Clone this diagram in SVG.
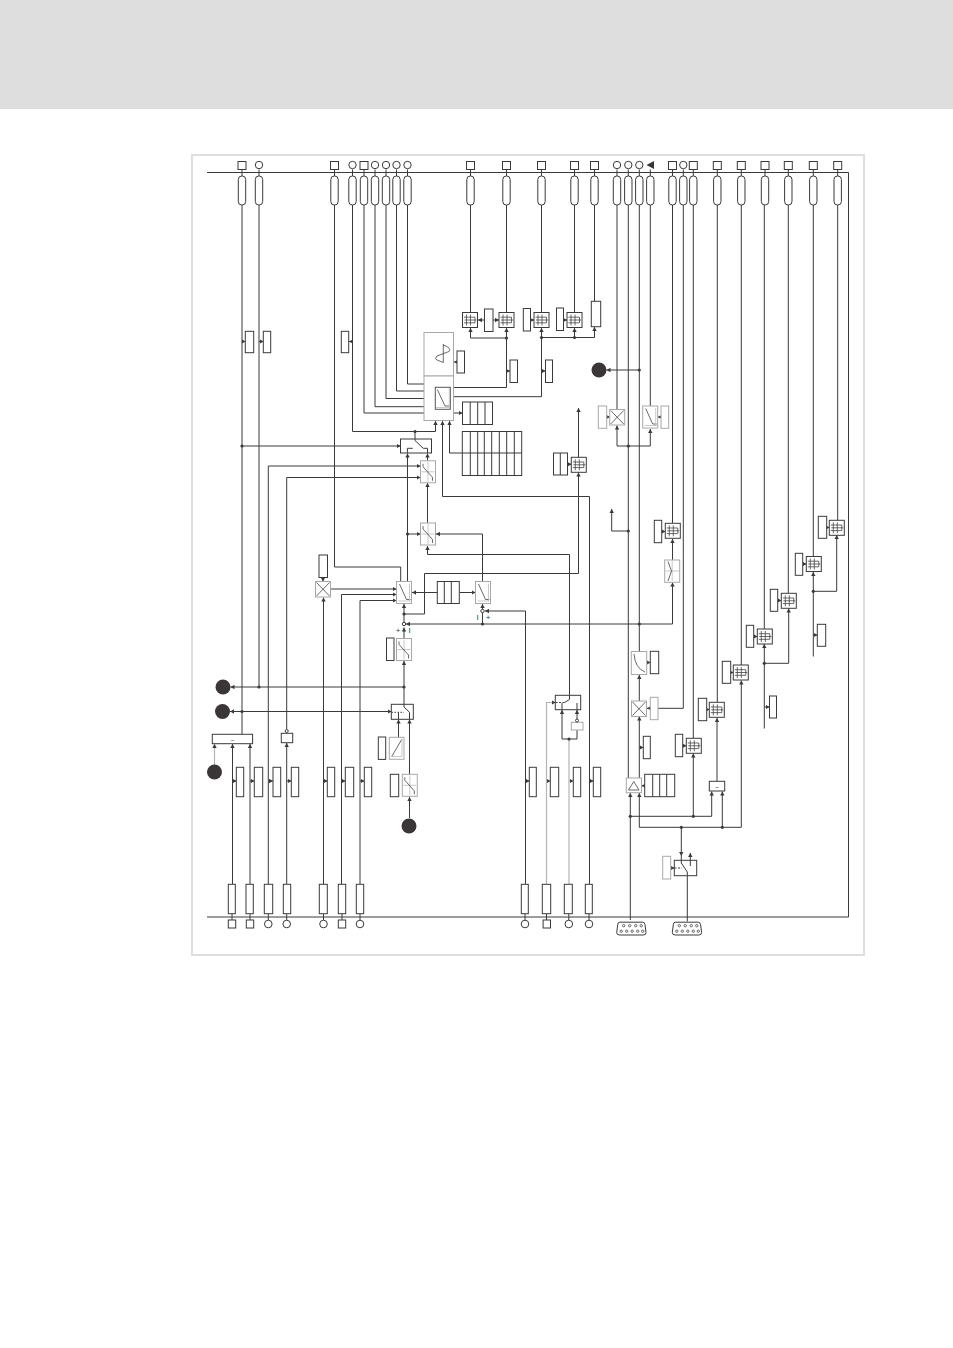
<svg xmlns="http://www.w3.org/2000/svg" width="953" height="1348" viewBox="0 0 953 1348">
<style>
.c{fill:none;stroke:#3a3a3a;stroke-width:1}
.g{fill:none;stroke:#b4b4b4;stroke-width:1.2}
.a{marker-end:url(#ar)}
.r{fill:#fff;stroke:#3a3a3a;stroke-width:1}
.y{fill:#fff;stroke:#a8a8a8;stroke-width:1}
.i{fill:none;stroke:#444;stroke-width:.8}
.l{fill:none;stroke:#bbb;stroke-width:.8}
.d{fill:#3a3a3a}
.k{fill:#3a3536}
.t{font-family:"Liberation Sans",Arial,sans-serif;fill:#3a3a3a;text-anchor:middle}
</style>
<defs>
<marker id="ar" markerUnits="userSpaceOnUse" markerWidth="5" markerHeight="5" refX="4" refY="2.5" orient="auto"><path d="M0 .3L4 2.5L0 4.700Z" fill="#3a3a3a"/></marker>
<g id="pill"><path class="c" d="M0 169.500V176"/><rect class="r" x="-3.700" y="176" width="7.400" height="29" rx="3.500"/></g>
<g id="ts"><rect class="r" x="-4" y="161.500" width="8" height="8"/><use href="#pill"/></g>
<g id="tc"><circle class="r" cx="0" cy="165" r="3.700"/><use href="#pill"/></g>
<g id="bs"><rect class="r" x="-3.700" y="920" width="7.400" height="8"/></g>
<g id="bc"><circle class="r" cx="0" cy="924" r="3.800"/></g>
<g id="mx"><rect class="r" width="15" height="15"/><path class="i" d="M1.500 4.700H12.500V10.300H1.500M2 7.500H14M4 2V13M8 2V13"/></g>
<g id="xb"><rect class="y" width="15" height="15.500"/><path class="i" d="M1 1L14 14.500M14 1L1 14.500"/></g>
<g id="nb"><rect class="y" width="15" height="22"/><path class="i" d="M3 2.500L10 18H14"/><path class="l" d="M13 2V20M2 19.500H14"/></g>
<g id="sb"><rect class="y" width="15" height="22"/><path class="l" d="M7.500 1V21M1 11H14"/><path class="i" d="M2.500 3V6L12 16.500V20"/></g>
<g id="db"><path class="r" d="M3 .5H26Q28 .5 28.300 3L29.300 11Q29.300 13.300 26.500 13.300H3Q0 13.300 0 11L1 3Q1 .5 3 .5Z"/><g class="i"><circle cx="7" cy="4" r="1.200"/><circle cx="13" cy="4" r="1.200"/><circle cx="19" cy="4" r="1.200"/><circle cx="24.500" cy="4" r="1.200"/><circle cx="4.500" cy="9.500" r="1.200"/><circle cx="10" cy="9.500" r="1.200"/><circle cx="15.500" cy="9.500" r="1.200"/><circle cx="21" cy="9.500" r="1.200"/><circle cx="26" cy="9.500" r="1.200"/></g></g>
</defs>
<rect x="0" y="0" width="953" height="109" fill="#dedede"/>
<rect x="192" y="155" width="672" height="800" fill="#fff" stroke="#dedede" stroke-width="2"/>

<g id="connectors">
<path class="c" d="M207 172.500H848.500V917H207"/>
<path class="c" d="M242 205V734M259 205V687M334.500 205V567H400.700V581.500M364 205V413H424M375 205V406.700H424M386 205V398.500H424M396.500 205V391H424M407.500 205V384H424M470.500 205V312.500M506.500 205V312.500M541.500 205V312.500M574.500 205V312.500M594.500 205V301M617 205V409.500M628.300 205V778M639.300 205V651M650.300 205V406M672.500 205V523M683.300 205V708.300H658M693.300 205V738M717.300 205V702M741.300 205V665M764.300 205V629M788.300 205V593M813.300 205V556M837.700 205V520M415 431.500V440"/>
<path class="c a" d="M352.500 205V431.500H435.500V421"/>
<path class="c a" d="M453.500 387.500H506.500V328"/>
<path class="c a" d="M506.500 338H470.500V328"/>
<path class="c a" d="M453.500 396.700H541.500V328"/>
<path class="c a" d="M541.500 337.500H594.500V327"/>
<path class="c a" d="M574.500 337.500V328"/>
<path class="c a" d="M484.500 320H478"/>
<path class="c a" d="M493 320H499"/>
<path class="c a" d="M530.500 320H534"/>
<path class="c a" d="M563.500 320H567"/>
<path class="c a" d="M457 362H454"/>
<path class="c a" d="M506.500 371H510"/>
<path class="c a" d="M541.500 371H545.500"/>
<path class="c a" d="M242 341.500H245.500"/>
<path class="c a" d="M259 341.500H263.500"/>
<path class="c a" d="M352.500 341.500H349"/>
<path class="c a" d="M453.500 413H462.500"/>
<path class="c a" d="M242 446H400.500"/>
<path class="c a" d="M268.300 884V466H420.500"/>
<path class="c a" d="M286.700 729V477.500H420.500"/>
<path class="c a" d="M286.700 884V743"/>
<path class="c a" d="M407.500 582V453.500"/>
<path class="c a" d="M407.500 534H420.500"/>
<path class="c a" d="M427.500 523V483"/>
<path class="c a" d="M427.500 461V453.500"/>
<path class="c a" d="M569.500 697V554.500H427.500V546"/>
<path class="c a" d="M482.500 581V534H436"/>
<path class="c a" d="M589.500 884V496.500H442.500V421"/>
<path class="c a" d="M462.500 453H449.500V421"/>
<path class="c a" d="M578.500 457V408"/>
<path class="c a" d="M404 614H424.500V573.500H578.500V472.500"/>
<path class="c a" d="M437.500 592.500H412"/>
<path class="c a" d="M459.500 592.500H475.500"/>
<path class="c a" d="M404 622V604"/>
<path class="c a" d="M672.500 624H406"/>
<path class="c a" d="M672.500 624V582.500"/>
<path class="c a" d="M482.500 624V604"/>
<path class="c a" d="M525.500 884V611H485"/>
<path class="c a" d="M404 638.500V627.500"/>
<path class="c a" d="M404 704.500V661"/>
<path class="c a" d="M404 687H230.500"/>
<path class="c a" d="M242 711.500H230"/>
<path class="c a" d="M242 711.500H391.500"/>
<path class="c a" d="M398.500 737V719.500"/>
<path class="c a" d="M409.500 774V719.500"/>
<path class="c a" d="M409.500 818V797"/>
<path class="c a" d="M323.500 884V597.500"/>
<path class="c a" d="M323 577.500V581.500"/>
<path class="c a" d="M330.500 589H396.500"/>
<path class="c a" d="M341.500 884V594.500H396.500"/>
<path class="c a" d="M360 884V600.500H396.500"/>
<path class="c a" d="M232.500 884V744"/>
<path class="c a" d="M250 884V744"/>
<path class="g a" d="M214.500 765V744"/>
<path class="c a" d="M232.500 781H236.500"/>
<path class="c a" d="M250 781H254.500"/>
<path class="c a" d="M268.300 781H273"/>
<path class="c a" d="M286.700 781H291.500"/>
<path class="c a" d="M323.500 781H327.500"/>
<path class="c a" d="M341.500 781H345.500"/>
<path class="c a" d="M360 781H364.500"/>
<path class="c a" d="M525.500 781H529.500"/>
<path class="g a" d="M546.500 781H550.500"/>
<path class="g a" d="M569 781H573.500"/>
<path class="c a" d="M589.500 781H593.500"/>
<path class="g" d="M569 884V739"/>
<path class="g a" d="M546.500 884V702.500H555.500"/>
<path class="c a" d="M569 739H562V710"/>
<path class="c" d="M569 739H577V730"/>
<path class="c a" d="M577 719V710"/>
<path class="c a" d="M628.300 446H617V425.500"/>
<path class="c a" d="M628.300 446H650.300V429"/>
<path class="c a" d="M628.300 531H611.700V509"/>
<path class="c a" d="M644.500 785.700H641.500"/>
<path class="c a" d="M630.300 920V793"/>
<path class="c a" d="M630.300 816.300H711.700V791.500"/>
<path class="c a" d="M639.300 827.300V793"/>
<path class="c a" d="M639.300 827.300H741.300V680.500"/>
<path class="c a" d="M722.300 827.300V791.500"/>
<path class="c a" d="M717 781V718"/>
<path class="c a" d="M693.300 816.300V753.500"/>
<path class="c a" d="M639.300 778V716.500"/>
<path class="c a" d="M639.300 701V675"/>
<path class="c a" d="M706.700 709.500H709.500"/>
<path class="c a" d="M682.700 745.700H686.500"/>
<path class="c a" d="M639.300 747.500H643.500"/>
<path class="c a" d="M658 708.300H647"/>
<path class="c a" d="M646.700 662.500H650.500"/>
<path class="c a" d="M661.700 531.500H665.500"/>
<path class="c a" d="M672.500 560V539"/>
<path class="c a" d="M730.700 672.500H733.500"/>
<path class="c a" d="M753.700 636.500H757.500"/>
<path class="c a" d="M777.700 600.500H781.500"/>
<path class="c a" d="M802.700 564H806.500"/>
<path class="c a" d="M826.700 527.500H829.500"/>
<path class="c a" d="M764.300 728.500V644"/>
<path class="c a" d="M764.300 663.300H788.700V608.500"/>
<path class="c a" d="M813.300 656.500V572"/>
<path class="c a" d="M813.300 591.300H836.700V535"/>
<path class="c a" d="M813.300 635H817.500"/>
<path class="c a" d="M764.300 707H769.500"/>
<path class="c a" d="M567.500 464.300H571.500"/>
<path class="c a" d="M681.300 827.300V856"/>
<path class="c" d="M681.300 856V860.500"/>
<path class="c" d="M687.300 921.500V875.500"/>
<path class="c a" d="M690.300 862V853"/>
<path class="c a" d="M670.700 868H674.500"/>
<path class="c a" d="M606.700 417H610"/>
<path class="c a" d="M661 417H658"/>
<path class="c a" d="M639.300 370H606.500"/>
<g class="d">
<circle cx="415" cy="431.500" r="1.600"/><circle cx="506.500" cy="338" r="1.600"/><circle cx="541.500" cy="337.500" r="1.600"/><circle cx="574.500" cy="337.500" r="1.600"/><circle cx="242" cy="446" r="1.600"/><circle cx="407.500" cy="534" r="1.600"/><circle cx="404" cy="614" r="1.600"/><circle cx="482.500" cy="624" r="1.600"/><circle cx="639.300" cy="624" r="1.600"/><circle cx="404" cy="687" r="1.600"/><circle cx="259" cy="687" r="1.600"/><circle cx="242" cy="711.500" r="1.600"/><circle cx="569" cy="739" r="1.600"/><circle cx="628.300" cy="446" r="1.600"/><circle cx="628.300" cy="531" r="1.600"/><circle cx="639.300" cy="370" r="1.600"/><circle cx="630.300" cy="816.300" r="1.600"/><circle cx="693.300" cy="816.300" r="1.600"/><circle cx="681.300" cy="827.300" r="1.600"/><circle cx="722.300" cy="827.300" r="1.600"/><circle cx="764.300" cy="663.300" r="1.600"/><circle cx="813.300" cy="591.300" r="1.600"/>
</g>
</g>

<g id="top-terminals">
<use href="#ts" x="242"/><use href="#tc" x="259"/><use href="#ts" x="334.500"/><use href="#tc" x="352.500"/><use href="#ts" x="364"/><use href="#tc" x="375"/><use href="#tc" x="386"/><use href="#tc" x="396.500"/><use href="#tc" x="407.500"/><use href="#ts" x="470.500"/><use href="#ts" x="506.500"/><use href="#ts" x="541.500"/><use href="#ts" x="574.500"/><use href="#ts" x="594.500"/><use href="#tc" x="617"/><use href="#tc" x="628.300"/><use href="#tc" x="639.300"/><use href="#pill" x="650.300"/><use href="#ts" x="672.500"/><use href="#tc" x="683.300"/><use href="#ts" x="693.300"/><use href="#ts" x="717.300"/><use href="#ts" x="741.300"/><use href="#ts" x="765"/><use href="#ts" x="788.300"/><use href="#ts" x="813.300"/><use href="#ts" x="837.700"/>
<path class="k" d="M646.500 165L654 161V169Z"/>
</g>

<g id="bottom-terminals">
<use href="#bs" x="232"/><use href="#bs" x="250"/><use href="#bc" x="268.300"/><use href="#bc" x="286.700"/><use href="#bc" x="323.500"/><use href="#bs" x="342"/><use href="#bc" x="360"/><use href="#bc" x="525"/><use href="#bs" x="546.800"/><use href="#bc" x="568.800"/><use href="#bc" x="589"/>
<path class="c" d="M232 914V920M250 914V920M268.300 914V920M286.700 914V920M323.500 914V920M342 914V920M360 914V920M525 914V920M546.500 914V920M568.800 914V920M589 914V920"/>
<rect class="r" x="228.300" y="884.300" width="7" height="29.400"/><rect class="r" x="246" y="884.300" width="7.300" height="29.400"/><rect class="r" x="264.300" y="884.300" width="8.400" height="29.400"/><rect class="r" x="283.300" y="884.300" width="7.400" height="29.400"/><rect class="r" x="319.300" y="884.300" width="8" height="29.400"/><rect class="r" x="338.300" y="884.300" width="7.400" height="29.400"/><rect class="r" x="356.300" y="884.300" width="7.400" height="29.400"/><rect class="r" x="521.300" y="884.300" width="7" height="29.400"/><rect class="r" x="542.300" y="884.300" width="8.400" height="29.400"/><rect class="r" x="564.300" y="884.300" width="8" height="29.400"/><rect class="r" x="585.300" y="884.300" width="7" height="29.400"/>
</g>

<g id="mid-row">
<rect class="r" x="236.300" y="767.300" width="7.400" height="29.400"/><rect class="r" x="254.300" y="767.300" width="8.400" height="29.400"/><rect class="r" x="273" y="767.300" width="7.700" height="29.400"/><rect class="r" x="291.300" y="767.300" width="7.400" height="29.400"/><rect class="r" x="327.300" y="767.300" width="7.400" height="29.400"/><rect class="r" x="345.300" y="767.300" width="8.400" height="29.400"/><rect class="r" x="364.300" y="767.300" width="7.400" height="29.400"/><rect class="r" x="529.300" y="767.300" width="7" height="29.400"/><rect class="r" x="550.300" y="767.300" width="8.400" height="29.400"/><rect class="r" x="573.300" y="767.300" width="7.400" height="29.400"/><rect class="r" x="593.300" y="767.300" width="7.400" height="29.400"/>
</g>

<g id="params">
<rect class="r" x="245.300" y="331.300" width="8.400" height="21.400"/><rect class="r" x="263.300" y="331.300" width="7.400" height="21.400"/><rect class="r" x="341.300" y="331.300" width="7.400" height="21.400"/>
<rect class="r" x="484.500" y="309" width="8.500" height="22.500"/><rect class="r" x="523.300" y="308.500" width="7.200" height="22.500"/><rect class="r" x="556.500" y="308" width="7" height="22.500"/><rect class="r" x="591.300" y="301.300" width="9.400" height="25.400"/>
<rect class="r" x="457" y="351" width="7.500" height="22"/><rect class="r" x="510" y="360" width="7.500" height="22.500"/><rect class="r" x="545.500" y="360" width="7" height="22.500"/>
<rect class="y" x="598.300" y="406" width="8.400" height="22.300"/><rect class="y" x="661" y="406" width="7.700" height="22.300"/>
<rect class="r" x="654.300" y="520.300" width="7.400" height="22.400"/><rect class="r" x="650.300" y="651.300" width="8.400" height="22.400"/><rect class="y" x="650.300" y="697.300" width="7.700" height="22.400"/><rect class="r" x="643.300" y="736.300" width="7" height="22.400"/><rect class="r" x="675.300" y="734.300" width="7.400" height="22.400"/><rect class="r" x="698.300" y="698.300" width="8.400" height="22.400"/><rect class="r" x="722.300" y="661.300" width="8.400" height="22"/><rect class="r" x="746.300" y="625.300" width="7.400" height="22"/><rect class="r" x="770.300" y="589.300" width="7.400" height="22"/><rect class="r" x="795.300" y="553.300" width="7.400" height="22"/><rect class="r" x="818.300" y="516.300" width="8.400" height="22"/><rect class="r" x="817.300" y="624.300" width="8.400" height="22"/><rect class="r" x="769.500" y="696" width="7" height="22"/>
<rect class="r" x="319" y="555" width="8.500" height="22.500"/><rect class="r" x="386.500" y="638" width="7.500" height="22.500"/><rect class="r" x="378.300" y="737" width="7.400" height="22.400"/><rect class="r" x="390.300" y="774.300" width="8.400" height="22.400"/>
<rect class="y" x="662.700" y="856.300" width="8" height="22.700"/>
</g>

<g id="tables">
<rect class="r" x="462.500" y="402" width="30" height="22.500"/>
<path class="c" d="M470.200 402V424.500M477.700 402V424.500M485 402V424.500"/>
<rect class="r" x="462.300" y="431.500" width="59.400" height="44"/>
<path class="c" d="M462.300 453H521.700M470.300 431.500V475.500M477.700 431.500V475.500M484.300 431.500V475.500M491.700 431.500V475.500M499.300 431.500V475.500M506.700 431.500V475.500M514.300 431.500V475.500"/>
<rect class="r" x="437.300" y="581.500" width="22" height="22"/><path class="c" d="M444.300 581.500V603.500M451.300 581.500V603.500"/>
<rect class="r" x="553.500" y="453" width="14" height="22"/><path class="c" d="M560.300 453V475"/>
<rect class="r" x="644.700" y="774.300" width="30" height="22.400"/><path class="c" d="M652.700 774.300V796.700M659.700 774.300V796.700M666.700 774.300V796.700"/>
</g>

<g id="main-block"><rect class="y" x="424" y="332.500" width="29.500" height="43.500"/><path class="i" d="M443.300 344V362.500M443.300 345Q452 348 449 351.500L437 356Q434 359 437 360L443.300 362.500"/><rect class="y" x="424" y="376" width="29.500" height="44.500"/><rect x="435.300" y="387.300" width="15" height="22" fill="#fff" stroke="#555"/><path class="i" d="M437.300 389.500L445 406H449"/><path class="l" d="M449.300 388V408.500M436 407.500H450"/></g>

<g id="mx-blocks">
<use href="#mx" x="462.500" y="312.500"/><use href="#mx" x="499" y="312.500"/><use href="#mx" x="534" y="312.500"/><use href="#mx" x="567" y="312.500"/><use href="#mx" x="571.300" y="457.300"/><use href="#mx" x="665.300" y="523.300"/><use href="#mx" x="709.300" y="702.300"/><use href="#mx" x="686.300" y="738.300"/><use href="#mx" x="733.300" y="665"/><use href="#mx" x="757.300" y="629"/><use href="#mx" x="781.300" y="593.300"/><use href="#mx" x="806.300" y="556.500"/><use href="#mx" x="829.300" y="520.300"/>
</g>
<g id="mult-blocks"><use href="#xb" x="315.500" y="581.500"/><use href="#xb" x="609.700" y="409.500"/><use href="#xb" x="631.500" y="701"/></g>
<g id="ramp-blocks"><use href="#nb" x="396.500" y="581.500"/><use href="#nb" x="475.500" y="581.500"/><use href="#nb" x="642.700" y="406"/>
<g id="n-curve"><rect class="y" x="631.300" y="651.500" width="15.400" height="23"/><path class="i" d="M634 654Q635 668 645 672"/></g>
<g id="n-ramp"><rect class="y" x="389.300" y="737.300" width="14.700" height="22"/><path class="i" d="M391.700 756.500L401.700 739.500"/><path class="l" d="M391.500 756.500H402V739"/></g>
<g id="n-v"><rect class="y" x="664.700" y="560" width="15" height="22.300"/><path class="l" d="M672.200 561V581M665.500 571H679"/><path class="i" d="M668 561.500L671.500 571L668 581"/></g>
</g>
<g id="s-blocks"><use href="#sb" x="420.500" y="460.800"/><use href="#sb" x="420.500" y="523"/><use href="#sb" x="396.500" y="638.500"/><use href="#sb" x="402.300" y="774.300"/></g>

<g id="switch-1"><rect class="r" x="400.500" y="439" width="31" height="14"/><path class="c" d="M407.400 453V448.300H412.700M415 439V440.500L423.300 448.300H427.500V453"/></g>
<g id="switch-2"><rect class="r" x="391.300" y="704.300" width="22" height="15"/><path class="c" d="M404 704.300V707L409.500 712.300V719.300M398.500 719.300V712.300"/><path class="c" stroke-dasharray="1.500 1.500" d="M391.500 712.300H404"/></g>
<g id="switch-3"><rect class="r" x="555.300" y="695.300" width="25.400" height="14.400"/><path class="c" d="M569.500 695.300V699.500L564.500 702.500M577 703V709.700M562 709.700V703"/><path class="c" stroke-dasharray="2 1.500" d="M555.500 702.500H565"/></g>
<g id="switch-4"><rect class="r" x="674.300" y="860.300" width="22.400" height="15.400"/><path class="c" d="M681.300 860.300V863L687.300 872V875.700M690.300 860.300V866"/><path class="c" stroke-dasharray="2 1.500" d="M674.500 868H682"/></g>

<g id="sum-left"><circle class="r" cx="404" cy="624" r="1.700"/><text class="t" x="398" y="632.500" font-size="8">+</text><text class="t" x="409.500" y="632.500" font-size="8">I</text></g>
<g id="sum-right"><circle class="r" cx="482.500" cy="611" r="1.700"/><text class="t" x="477.500" y="619.500" font-size="8">I</text><text class="t" x="488" y="619.500" font-size="8">+</text></g>

<g id="tilde-1"><rect class="r" x="212.300" y="734.300" width="40.300" height="9.400"/><text class="t" x="232.500" y="741.500" font-size="6">~</text></g>
<g id="box-287"><rect class="r" x="281.300" y="733.300" width="11.400" height="9.400"/><circle class="r" cx="286.700" cy="731" r="1.500"/></g>
<g id="box-577"><rect class="y" x="571.300" y="722.300" width="11.700" height="7.700"/><circle class="r" cx="577" cy="720.500" r="1.500"/></g>
<g id="tri-block"><rect class="y" x="626.300" y="778" width="15.200" height="14.700"/><path class="i" d="M628.500 790L633.800 781.500L639 790Z"/></g>
<g id="tilde-2"><rect class="r" x="709.300" y="781.300" width="15.400" height="9.700"/><text class="t" x="717" y="788.500" font-size="6">~</text></g>
<use id="dsub-1" href="#db" x="616.700" y="921.700"/>
<use id="dsub-2" href="#db" x="672.300" y="921.700"/>
<g id="ports"><circle class="k" cx="599" cy="370" r="7.500"/><circle class="k" cx="223" cy="687" r="7.500"/><circle class="k" cx="222.500" cy="711.500" r="7.500"/><circle class="k" cx="214.500" cy="772" r="7.500"/><circle class="k" cx="409" cy="826" r="7.500"/></g>
</svg>
